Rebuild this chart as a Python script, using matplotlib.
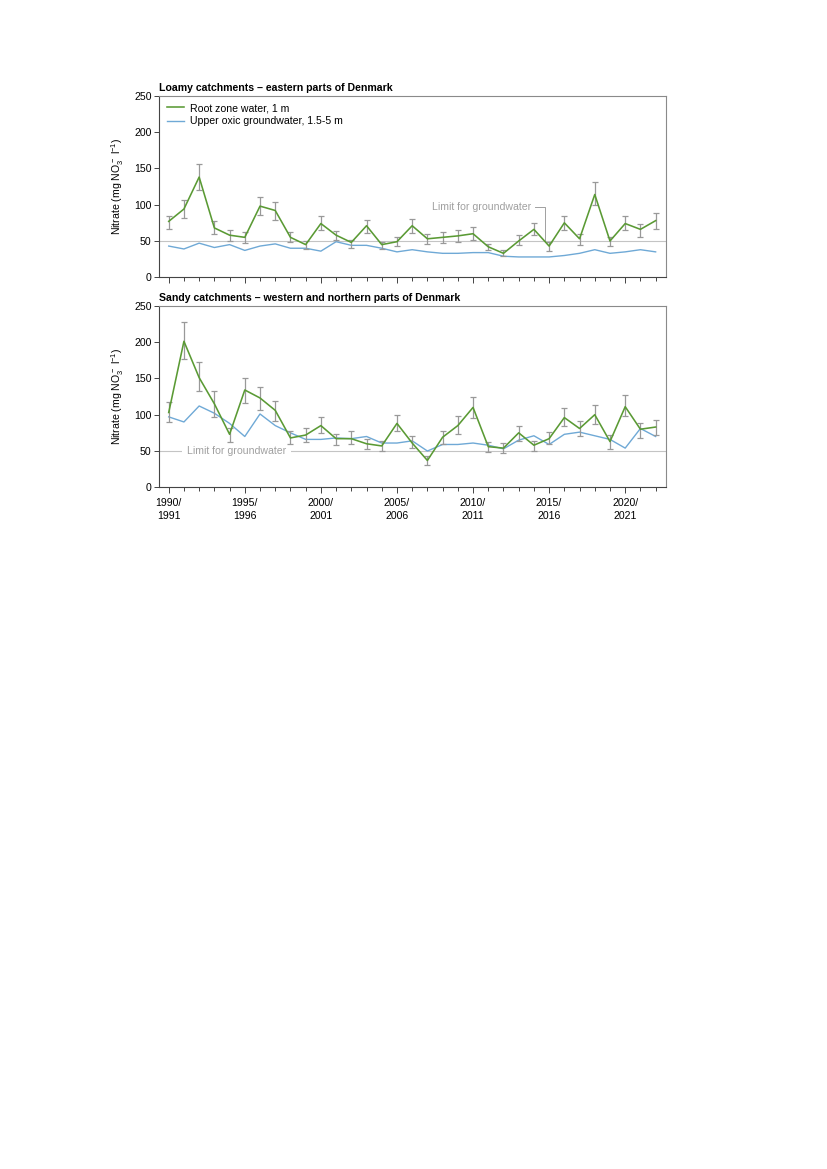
import numpy as np
import matplotlib
matplotlib.use("Agg")
import matplotlib.pyplot as plt

plt.rcParams["font.family"] = ["Liberation Sans", "DejaVu Sans"]
plt.rcParams["mathtext.fontset"] = "custom"
plt.rcParams["mathtext.rm"] = "Liberation Sans"

years = np.arange(1990, 2023)

# Loamy catchments - eastern Denmark
loamy_root = [77, 94, 138, 68, 58, 55, 98, 92, 55, 45, 74, 58, 48, 71, 45, 49,
              71, 53, 55, 57, 60, 42, 33, 50, 66, 43, 75, 53, 114, 50, 74, 66, 78]
loamy_root_hi = [85, 106, 156, 77, 65, 62, 110, 103, 62, 50, 84, 64, 51, 79, 49, 55,
                 80, 60, 62, 65, 69, 46, 37, 58, 75, 49, 85, 59, 131, 56, 84, 74, 88]
loamy_root_lo = [66, 82, 120, 60, 50, 47, 86, 79, 48, 39, 65, 51, 41, 61, 39, 43,
                 61, 46, 47, 49, 52, 37, 29, 44, 58, 36, 65, 45, 99, 43, 65, 56, 67]
loamy_gw = [43, 39, 47, 41, 45, 37, 43, 46, 40, 40, 36, 49, 44, 44, 40, 35,
            38, 35, 33, 33, 34, 34, 29, 28, 28, 28, 30, 33, 38, 33, 35, 38, 35]

# Sandy catchments - western and northern Denmark
sandy_root = [103, 201, 151, 115, 73, 134, 123, 106, 68, 72, 85, 67, 67, 60, 57, 88,
              61, 37, 69, 85, 110, 56, 54, 75, 58, 67, 96, 81, 100, 63, 111, 80, 83]
sandy_root_hi = [117, 227, 173, 132, 82, 151, 138, 119, 77, 82, 97, 74, 77, 67, 64, 99,
                 70, 43, 77, 98, 125, 63, 61, 85, 64, 76, 109, 92, 113, 72, 127, 89, 93]
sandy_root_lo = [90, 176, 133, 97, 63, 116, 107, 92, 60, 62, 75, 58, 60, 53, 50, 77,
                 54, 31, 60, 74, 96, 49, 47, 64, 50, 60, 84, 71, 87, 53, 98, 68, 72]
sandy_gw = [97, 90, 112, 102, 88, 70, 101, 85, 75, 66, 66, 68, 67, 70, 61, 61,
            64, 50, 59, 59, 61, 58, 53, 65, 71, 59, 73, 76, 71, 66, 54, 81, 70]

year_labels = ["1990/\n1991", "1995/\n1996", "2000/\n2001", "2005/\n2006",
               "2010/\n2011", "2015/\n2016", "2020/\n2021"]
limit = 50

GREEN = "#5a9a34"
BLUE = "#6fa9d6"
ERR = "#999999"
LIMIT = "#c4c4c4"
FS = 7.6


def panel(ax, title, root, lo, hi, gw, show_labels):
    root = np.asarray(root, float)
    yerr = [root - np.asarray(lo), np.asarray(hi) - root]
    ax.axhline(limit, color=LIMIT, lw=0.8, zorder=1)
    ax.plot(years, gw, color=BLUE, lw=1.0, zorder=2,
            label="Upper oxic groundwater, 1.5-5 m")
    ax.errorbar(years, root, yerr=yerr, fmt="none", ecolor=ERR, elinewidth=0.9,
                capsize=2.2, capthick=0.9, zorder=3)
    ax.plot(years, root, color=GREEN, lw=1.15, zorder=4, label="Root zone water, 1 m")

    ax.set_xlim(1989.38, 2022.68)
    ax.set_ylim(0, 250)
    ax.set_yticks(np.arange(0, 251, 50))
    ax.set_xticks(np.arange(1990, 2021, 5))
    ax.set_xticks(years, minor=True)
    if show_labels:
        ax.set_xticklabels(year_labels, fontsize=FS, linespacing=1.45)
    else:
        ax.set_xticklabels([])
    ax.tick_params(axis="x", which="major", length=4.5, width=0.7, color="#444", pad=3)
    ax.tick_params(axis="x", which="minor", length=3, width=0.7, color="#444")
    ax.tick_params(axis="y", length=3.5, width=0.7, color="#444", labelsize=FS, pad=2)
    ax.set_ylabel("Nitrate (mg NO$_3^-$ l$^{-1}$)", fontsize=FS, labelpad=6)
    for s in ("top", "right"):
        ax.spines[s].set_color("#8a8a8a")
        ax.spines[s].set_linewidth(0.8)
    for s in ("left", "bottom"):
        ax.spines[s].set_color("#444")
        ax.spines[s].set_linewidth(0.8)
    ax.text(0.0, 1.015, title, transform=ax.transAxes, fontsize=FS,
            fontweight="bold", ha="left", va="bottom")


fig = plt.figure(figsize=(8.27, 11.69), dpi=100)
ax1 = fig.add_axes([0.1926, 0.7628, 0.6127, 0.1553])
ax2 = fig.add_axes([0.1926, 0.5831, 0.6127, 0.1554])

panel(ax1, "Loamy catchments \u2013 eastern parts of Denmark",
      loamy_root, loamy_root_lo, loamy_root_hi, loamy_gw, False)
panel(ax2, "Sandy catchments \u2013 western and northern parts of Denmark",
      sandy_root, sandy_root_lo, sandy_root_hi, sandy_gw, True)

h, l = ax1.get_legend_handles_labels()
ax1.legend(h[::-1], l[::-1], loc="upper left", frameon=False, fontsize=FS,
           handlelength=1.6, handletextpad=0.6, labelspacing=0.3,
           borderaxespad=0.3, bbox_to_anchor=(0.0, 1.0))

# limit annotations
ax1.text(2013.8, 97, "Limit for groundwater", color="#a0a0a0", fontsize=FS,
         ha="right", va="center")
ax1.plot([2014.05, 2014.75, 2014.75], [97, 97, limit], color="#a0a0a0", lw=0.7)
ax2.text(1991.2, limit, "Limit for groundwater", color="#a0a0a0", fontsize=FS,
         ha="left", va="center", zorder=1.5,
         bbox=dict(facecolor="white", edgecolor="none", pad=3.5))

fig.savefig("out.png", dpi=100)
